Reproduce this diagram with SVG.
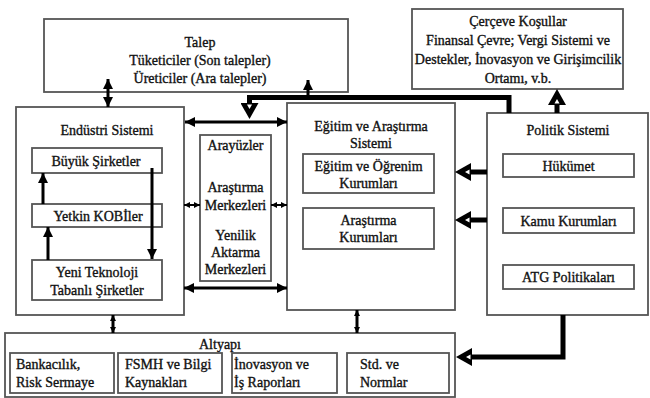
<svg xmlns="http://www.w3.org/2000/svg" width="650" height="398" viewBox="0 0 650 398">
<defs>
<style>
.box{fill:#fff;stroke:#555;stroke-width:1.8}
.t{font-family:"Liberation Serif","DejaVu Serif",serif;font-size:14px;fill:#111;stroke:#111;stroke-width:0.35;text-anchor:middle}
.tl{text-anchor:start}
.thin{fill:none;stroke:#000;stroke-width:3}
.fine{fill:none;stroke:#000;stroke-width:2}
.thick{fill:none;stroke:#000;stroke-width:5;stroke-linejoin:miter}
</style>
<marker id="a" markerUnits="userSpaceOnUse" viewBox="0 0 10 10" refX="10" refY="5" markerWidth="10" markerHeight="10" orient="auto-start-reverse">
<path d="M0,0 L10,5 L0,10 Z" fill="#000"/>
</marker>
<marker id="s" markerUnits="userSpaceOnUse" viewBox="0 0 6 6" refX="6" refY="3" markerWidth="6" markerHeight="6" orient="auto-start-reverse">
<path d="M0,0 L6,3 L0,6 Z" fill="#000"/>
</marker>
<marker id="h" markerUnits="userSpaceOnUse" viewBox="0 0 16 18" refX="0" refY="9" markerWidth="16" markerHeight="18" orient="auto">
<path d="M0,0 L16,9 L0,18 Z" fill="#000"/>
<path d="M1.5,6.5 L6,9 L1.5,11.5 Z" fill="#fff"/>
</marker>
</defs>

<g id="talep">
<rect class="box" x="44" y="19" width="304" height="73"/>
<text class="t" x="200" y="47">Talep</text>
<text class="t" x="200" y="65">Tüketiciler (Son talepler)</text>
<text class="t" x="200" y="83">Üreticiler (Ara talepler)</text>
</g>

<g id="cerceve">
<rect class="box" x="412" y="9" width="211" height="80"/>
<text class="t" x="518" y="26">Çerçeve Koşullar</text>
<text class="t" x="518" y="45">Finansal Çevre; Vergi Sistemi ve</text>
<text class="t" x="518" y="64">Destekler, İnovasyon ve Girişimcilik</text>
<text class="t" x="518" y="83">Ortamı, v.b.</text>
</g>

<g id="endustri">
<rect class="box" x="16" y="107" width="168" height="208"/>
<text class="t" x="107" y="135">Endüstri Sistemi</text>
</g>
<g id="buyuk">
<rect class="box" x="32" y="148" width="130" height="25"/>
<text class="t" x="96" y="166">Büyük Şirketler</text>
</g>
<g id="yetkin">
<rect class="box" x="32" y="204" width="130" height="23"/>
<text class="t" x="98" y="221">Yetkin KOBİler</text>
</g>
<g id="yeni">
<rect class="box" x="32" y="260" width="130" height="40"/>
<text class="t" x="97" y="277">Yeni Teknoloji</text>
<text class="t" x="97" y="295">Tabanlı Şirketler</text>
</g>

<g id="arayuz">
<rect class="box" x="200" y="135" width="71" height="146"/>
<text class="t" x="235.5" y="150">Arayüzler</text>
<text class="t" x="235.5" y="192">Araştırma</text>
<text class="t" x="235.5" y="210">Merkezleri</text>
<text class="t" x="235.5" y="240">Yenilik</text>
<text class="t" x="235.5" y="257">Aktarma</text>
<text class="t" x="235.5" y="274">Merkezleri</text>
</g>

<g id="egitim">
<rect class="box" x="287" y="103" width="168" height="207"/>
<text class="t" x="371" y="131">Eğitim ve Araştırma</text>
<text class="t" x="371" y="148">Sistemi</text>
</g>
<g id="ogrenim">
<rect class="box" x="303" y="154" width="131" height="39"/>
<text class="t" x="368.5" y="171">Eğitim ve Öğrenim</text>
<text class="t" x="368.5" y="188">Kurumları</text>
</g>
<g id="arastirma">
<rect class="box" x="303" y="208" width="131" height="41"/>
<text class="t" x="368.5" y="225">Araştırma</text>
<text class="t" x="368.5" y="242">Kurumları</text>
</g>

<g id="politik">
<rect class="box" x="487" y="113" width="161" height="202"/>
<text class="t" x="568" y="135">Politik Sistemi</text>
</g>
<g id="hukumet">
<rect class="box" x="503" y="154" width="131" height="23"/>
<text class="t" x="568.5" y="171">Hükümet</text>
</g>
<g id="kamu">
<rect class="box" x="503" y="208" width="131" height="25"/>
<text class="t" x="568.5" y="226">Kamu Kurumları</text>
</g>
<g id="atg">
<rect class="box" x="503" y="265" width="131" height="24"/>
<text class="t" x="568.5" y="282">ATG Politikaları</text>
</g>

<g id="altyapi">
<rect class="box" x="5" y="333" width="450" height="64"/>
<text class="t" x="220" y="349">Altyapı</text>
</g>
<g id="bankacilik">
<rect class="box" x="10" y="353" width="104" height="40"/>
<text class="t tl" x="16" y="369">Bankacılık,</text>
<text class="t tl" x="16" y="387">Risk Sermaye</text>
</g>
<g id="fsmh">
<rect class="box" x="118" y="353" width="104" height="40"/>
<text class="t tl" x="125" y="369">FSMH ve Bilgi</text>
<text class="t tl" x="125" y="387">Kaynakları</text>
</g>
<g id="inovasyon">
<rect class="box" x="232" y="353" width="105" height="40"/>
<text class="t tl" x="234" y="369">İnovasyon ve</text>
<text class="t tl" x="234" y="387">İş Raporları</text>
</g>
<g id="std">
<rect class="box" x="347" y="353" width="102" height="40"/>
<text class="t tl" x="360" y="369">Std. ve</text>
<text class="t tl" x="360" y="387">Normlar</text>
</g>

<g id="connectors">
<path class="thin" d="M108,79 V107" marker-start="url(#a)" marker-end="url(#a)"/>
<path class="thin" d="M308,97 V80" marker-end="url(#a)"/>
<path class="thin" d="M185,122 H287" marker-start="url(#a)" marker-end="url(#a)"/>
<path class="thin" d="M184,288 H287" marker-start="url(#a)" marker-end="url(#a)"/>
<path class="fine" d="M184,205 H200" marker-start="url(#s)" marker-end="url(#s)"/>
<path class="fine" d="M271,205 H287" marker-start="url(#s)" marker-end="url(#s)"/>
<path class="thin" d="M113,315 V333" marker-start="url(#s)" marker-end="url(#s)"/>
<path class="thin" d="M357,310 V333" marker-start="url(#s)" marker-end="url(#s)"/>
<path class="thin" d="M43,204 V173" marker-end="url(#a)"/>
<path class="thin" d="M48,260 V227" marker-end="url(#a)"/>
<path class="thin" d="M152,168 V259" marker-end="url(#a)"/>
<path class="thick" d="M509,113 V97.5 H249.5 V103" marker-end="url(#h)"/>
<path class="thick" d="M557,113 V105" marker-end="url(#h)"/>
<path class="thick" d="M487,172 H471" marker-end="url(#h)"/>
<path class="thick" d="M487,220 H471" marker-end="url(#h)"/>
<path class="thick" d="M563,315 V357 H472" marker-end="url(#h)"/>
</g>
</svg>
